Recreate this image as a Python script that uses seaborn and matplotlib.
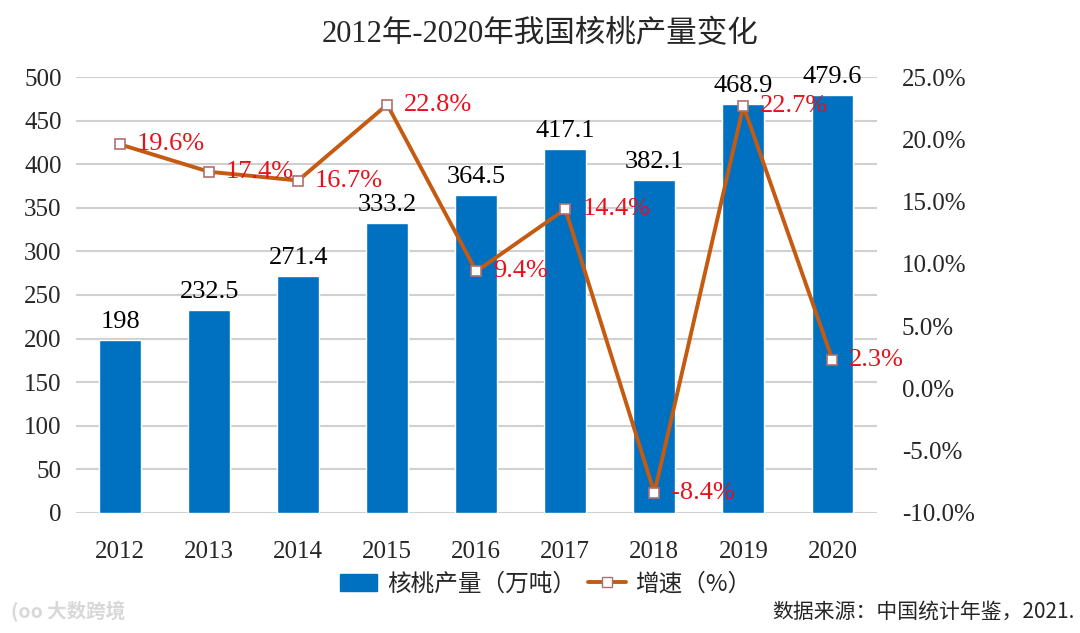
#!/usr/bin/env python3
"""
2012-2020 walnut output and growth rate
"""
import matplotlib
matplotlib.use("Agg")
import matplotlib.pyplot as plt
from matplotlib.ticker import FuncFormatter
import seaborn as sns
import pandas as pd

years = ["2012", "2013", "2014", "2015", "2016", "2017", "2018", "2019", "2020"]
output = [198, 232.5, 271.4, 333.2, 364.5, 417.1, 382.1, 468.9, 479.6]
growth = [19.6, 17.4, 16.7, 22.8, 9.4, 14.4, -8.4, 22.7, 2.3]
output_labels = ["198", "232.5", "271.4", "333.2", "364.5", "417.1", "382.1", "468.9", "479.6"]

BAR_COLOR = "#0070C0"
LINE_COLOR = "#C55A11"
SERIF = ["Liberation Serif", "Noto Sans CJK SC"]
CJK = ["Noto Sans CJK SC", "DejaVu Sans"]

sns.set_style("white")
plt.rcParams["font.family"] = SERIF
plt.rcParams["axes.unicode_minus"] = False

df = pd.DataFrame({"year": years, "output": output, "growth": growth})
df["pos"] = range(len(df))

fig = plt.figure(figsize=(10.8, 6.33), dpi=100)
ax = fig.add_axes([0.070, 0.190, 0.742, 0.688])

sns.barplot(data=df, x="year", y="output", color=BAR_COLOR, width=0.47,
            saturation=1, ax=ax, zorder=2)
ax.set_ylim(0, 500)
ax.set_yticks(range(0, 501, 50))
ax.set_xlim(-0.5, len(years) - 0.5)
ax.grid(axis="y", color="#D0D0D0", linewidth=1.5, zorder=0)
ax.set_axisbelow(True)
ax.set_xlabel("")
ax.set_ylabel("")
ax.tick_params(axis="both", labelsize=18, length=0, pad=10)
ax.tick_params(axis="x", pad=20)
for s in ax.spines.values():
    s.set_visible(False)

for i, v in enumerate(output):
    ax.text(i, v + 8, output_labels[i], ha="center", va="bottom",
            fontsize=19, color="black")

ax2 = ax.twinx()
sns.lineplot(data=df, x="pos", y="growth", ax=ax2, color=LINE_COLOR,
             linewidth=2.8, marker="s", markersize=7,
             markerfacecolor="white", markeredgecolor="#B07070",
             markeredgewidth=1.2, zorder=3)
ax2.set_ylim(-10, 25)
ax2.set_yticks(range(-10, 26, 5))
ax2.yaxis.set_major_formatter(FuncFormatter(lambda v, p: f"{v:.1f}%"))
ax2.tick_params(axis="y", labelsize=18, length=0, pad=18)
ax2.set_xlabel("")
ax2.set_ylabel("")
for s in ax2.spines.values():
    s.set_visible(False)

for i, g in enumerate(growth):
    ax2.text(i + 0.19, g, f"{g}%", ha="left", va="center",
             fontsize=19, color="#E8101A")

fig.text(0.5, 0.945, "2012年-2020年我国核桃产量变化", ha="center", va="center",
         fontsize=22, family=SERIF)

handles = [
    plt.Rectangle((0, 0), 1, 1, color=BAR_COLOR),
    plt.Line2D([], [], color=LINE_COLOR, linewidth=2.8, marker="s",
               markersize=7, markerfacecolor="white",
               markeredgecolor="#B07070"),
]
fig.legend(handles, ["核桃产量（万吨）", "增速（%）"], loc="center",
           bbox_to_anchor=(0.505, 0.077), ncol=2, frameon=False,
           prop={"family": CJK, "size": 17}, handlelength=1.6,
           columnspacing=0.5, handletextpad=0.4)

fig.text(0.995, 0.034, "数据来源：中国统计年鉴，2021.", ha="right", va="center",
         fontsize=15, family=CJK)
fig.text(0.01, 0.034, "(oo 大数跨境", ha="left", va="center",
         fontsize=14, family=CJK, color="#D8D8D8", weight="bold")

fig.savefig("out.png", dpi=100)
